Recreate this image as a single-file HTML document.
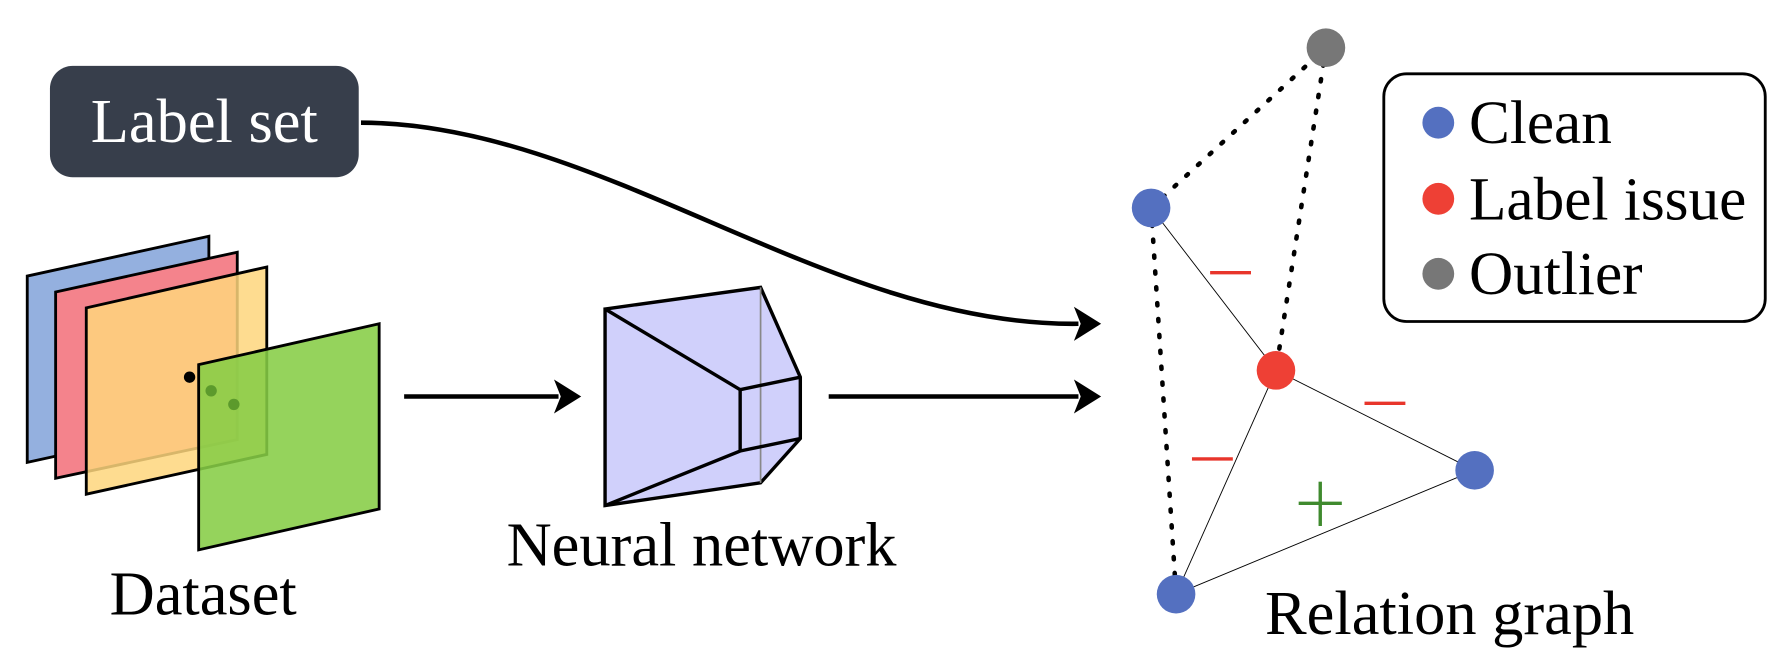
<!DOCTYPE html>
<html><head><meta charset="utf-8"><style>
html,body{margin:0;padding:0;background:#fff}
svg{display:block}
text{font-family:"Liberation Serif",serif}
</style></head><body>
<svg width="1780" height="668" viewBox="0 0 1568 588" preserveAspectRatio="none">
<g>
<rect x="44" y="58" width="272" height="98" rx="20" fill="#373e4b"/>
<text x="180" y="125" font-size="55" fill="#fff" text-anchor="middle">Label set</text>
</g>
<path d="M318,108 C530,108 730,288 950,285" fill="none" stroke="#000" stroke-width="4"/>
<path d="M946,270 L970,285 L946,300 L952,285 Z" fill="#000"/>
<g stroke="#000" stroke-width="2.5">
<polygon points="24,243 184,208 184,372 24,407" fill="#94b0df"/>
<polygon points="49,257 209,222 209,387 49,421" fill="#f4838c"/>
<polygon points="76,271 235,235 235,400 76,435" fill="#fed67c" fill-opacity="0.85"/>
<circle cx="167" cy="332" r="5" fill="#000" stroke="none"/>
<polygon points="175,321 334,285 334,448 175,484" fill="#86cd45" fill-opacity="0.88"/>
<circle cx="186" cy="344" r="5" fill="#5c9a2c" stroke="none"/>
<circle cx="206" cy="356" r="5" fill="#5c9a2c" stroke="none"/>
</g>
<text x="179" y="541" font-size="55" text-anchor="middle">Dataset</text>
<line x1="356" y1="349" x2="492" y2="349" stroke="#000" stroke-width="4"/>
<path d="M488,334 L512,349 L488,364 L494,349 Z" fill="#000"/>
<g stroke="#000" stroke-width="3" fill="none">
<polygon points="533,272 670,253 705,332 705,386 670,425 533,445" fill="#d0d0fb"/>
<line x1="670" y1="253" x2="670" y2="425" stroke="#888" stroke-width="1.5"/>
<polyline points="533,272 652,343 705,332"/>
<line x1="652" y1="343" x2="652" y2="397"/>
<polyline points="533,445 652,397 705,386"/>
</g>
<text x="618" y="498" font-size="55" text-anchor="middle">Neural network</text>
<line x1="730" y1="349" x2="950" y2="349" stroke="#000" stroke-width="4"/>
<path d="M946,334 L970,349 L946,364 L952,349 Z" fill="#000"/>
<g>
<g stroke="#000" stroke-width="4" stroke-dasharray="2,12" stroke-linecap="round">
<line x1="1014" y1="183" x2="1168" y2="42"/>
<line x1="1168" y1="42" x2="1124" y2="326"/>
<line x1="1014" y1="183" x2="1036" y2="523"/>
</g>
<g stroke="#000" stroke-width="0.8">
<line x1="1014" y1="183" x2="1124" y2="326"/>
<line x1="1124" y1="326" x2="1299" y2="414"/>
<line x1="1124" y1="326" x2="1036" y2="523"/>
<line x1="1299" y1="414" x2="1036" y2="523"/>
</g>
<g stroke="#e8352b" stroke-width="3">
<line x1="1066" y1="240" x2="1102" y2="240"/>
<line x1="1202" y1="355" x2="1238" y2="355"/>
<line x1="1050" y1="404" x2="1086" y2="404"/>
</g>
<g stroke="#3f8a2e" stroke-width="3">
<line x1="1144" y1="443" x2="1182" y2="443"/>
<line x1="1163" y1="424" x2="1163" y2="463"/>
</g>
<circle cx="1168" cy="42" r="17" fill="#777"/>
<circle cx="1014" cy="183" r="17" fill="#5470c0"/>
<circle cx="1124" cy="326" r="17" fill="#ee4035"/>
<circle cx="1299" cy="414" r="17" fill="#5470c0"/>
<circle cx="1036" cy="523" r="17" fill="#5470c0"/>
</g>
<g>
<rect x="1219" y="65" width="336" height="218" rx="20" fill="#fff" stroke="#000" stroke-width="2.5"/>
<circle cx="1267" cy="108" r="14" fill="#5470c0"/>
<text x="1294" y="126" font-size="54">Clean</text>
<circle cx="1267" cy="175" r="14" fill="#ee4035"/>
<text x="1294" y="193" font-size="54">Label issue</text>
<circle cx="1267" cy="241" r="14" fill="#777"/>
<text x="1294" y="259" font-size="54">Outlier</text>
</g>
<text x="1277" y="558" font-size="55" text-anchor="middle">Relation graph</text>
</svg>
</body></html>
